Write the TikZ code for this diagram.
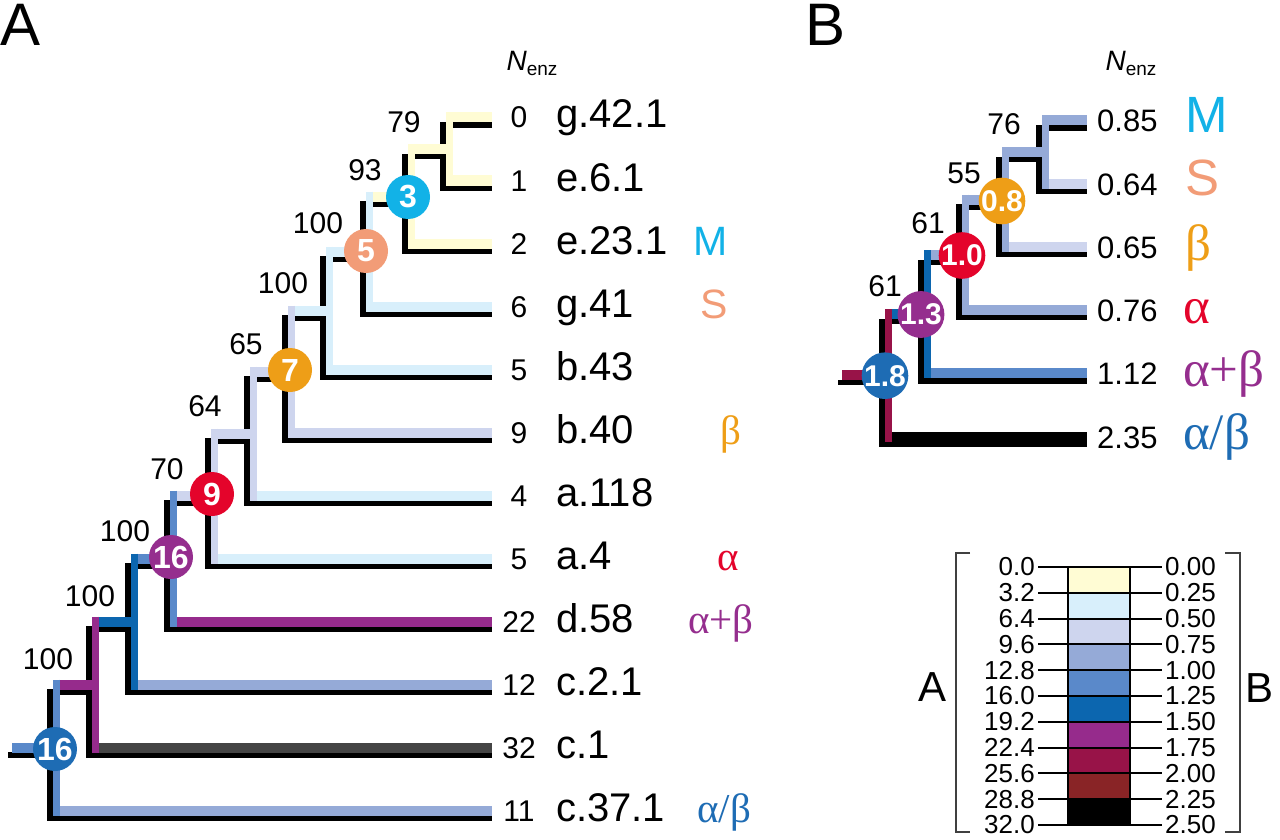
\documentclass[tikz,border=0pt]{standalone}
\usepackage{fontspec}
\setmainfont{Liberation Sans}
\newfontfamily\grk{Liberation Serif}
\usetikzlibrary{calc,positioning}

% colour bins of N_enz
\definecolor{bin0}{HTML}{FFFCD4}
\definecolor{bin1}{HTML}{D8EFFB}
\definecolor{bin2}{HTML}{CED5EE}
\definecolor{bin3}{HTML}{95AAD7}
\definecolor{bin4}{HTML}{5A89CA}
\definecolor{bin5}{HTML}{0C66AF}
\definecolor{bin6}{HTML}{962B8C}
\definecolor{bin7}{HTML}{981348}
\definecolor{bin8}{HTML}{892426}
\definecolor{bin9}{HTML}{000000}
\definecolor{binx}{HTML}{454545}
% fold classes
\definecolor{clsM}{HTML}{12B2E7}
\definecolor{clsS}{HTML}{F29C77}
\definecolor{clsB}{HTML}{EE9E17}
\definecolor{clsA}{HTML}{E4042B}
\definecolor{clsAB}{HTML}{952E8E}
\definecolor{clsAoB}{HTML}{1E6CB4}

\newcommand\fsz[1]{\fontsize{#1}{#1}\selectfont}
\newcommand\bandx{6.5}
\newcommand\bandy{7.5}
% coloured band next to the black branch
\newcommand\bandleaf[3]{\draw[hband,draw=#3] ($(#1 |- #2)+(\bandx,-\bandy)$) -- ($(#2)+(0,-\bandy)$);}
\newcommand\bandnode[3]{\draw[hband,draw=#3] ($(#1 |- #2)+(\bandx,-\bandy)$) -- ($(#2)+(\bandx,-\bandy)$);}
\newcommand\bandvert[4]{\draw[vband,draw=#4] ($(#1 |- #2)+(\bandx,-\bandy-5)$) -- ($(#1 |- #3)+(\bandx,-\bandy+5)$);}

\begin{document}
\begin{tikzpicture}[x=1pt, y=-1pt,
  blk/.style={line width=5.5pt},
  hband/.style={line width=10pt},
  vband/.style={line width=6.5pt},
  boot/.style={inner sep=0pt, font=\fsz{30}},
  bubble/.style={circle, fill=#1, minimum size=44pt, inner sep=0pt, text=white, font=\fsz{32}\bfseries},
  lbl/.style={anchor=base west, inner sep=0pt},
  nenz/.style={anchor=base, inner sep=0pt, font=\fsz{30}},
  keytxt/.style={inner sep=0pt, font=\fsz{26}}]
\useasboundingbox (0,0) rectangle (1280,840);

\node[inner sep=0pt, font=\fsz{60}] (pA) at (21,25) {A};
\node[inner sep=0pt, font=\fsz{60}] (pB) at (826,25) {B};
\node[inner sep=0pt] (hA) at (532,63) {{\fsz{28}\itshape N}{\fsz{19}\raisebox{-5pt}{enz}}};
\node[inner sep=0pt] (hB) at (1131,63) {{\fsz{28}\itshape N}{\fsz{19}\raisebox{-5pt}{enz}}};

% ---- A
\foreach \i/\nm/\nz in {0/g.42.1/0, 1/e.6.1/1, 2/e.23.1/2, 3/g.41/6, 4/b.43/5, 5/b.40/9,
    6/a.118/4, 7/a.4/5, 8/d.58/22, 9/c.2.1/12, 10/c.1/32, 11/c.37.1/11}{
  \coordinate (la\i) at (492,125+63*\i);
  \node[nenz] (za\i) at (519,128+63*\i) {\nz};
  \node[lbl, font=\fsz{40}] (ta\i) at (556,128+63*\i) {\nm};
}
\coordinate (a79) at (443,156.5);
\coordinate (a93) at (405,204);
\coordinate (a100a) at (363,259);
\coordinate (a100b) at (323,318);
\coordinate (a65) at (285,379);
\coordinate (a64) at (247,441);
\coordinate (a70) at (208,503);
\coordinate (a100c) at (167,566);
\coordinate (a100d) at (128,629);
\coordinate (a100e) at (89,692);
\coordinate (aroot) at (50,755);
\coordinate (aroot0) at (8,755);

\draw[blk] (la0) -| (a79) |- (la1);
\draw[blk] (a79) -| (a93) |- (la2);
\draw[blk] (a93) -| (a100a) |- (la3);
\draw[blk] (a100a) -| (a100b) |- (la4);
\draw[blk] (a100b) -| (a65) |- (la5);
\draw[blk] (a65) -| (a64) |- (la6);
\draw[blk] (a64) -| (a70) |- (la7);
\draw[blk] (a70) -| (a100c) |- (la8);
\draw[blk] (a100c) -| (a100d) |- (la9);
\draw[blk] (a100d) -| (a100e) |- (la10);
\draw[blk] (a100e) -| (aroot) |- (la11);
\draw[blk] (aroot0) -- (aroot);

\bandleaf{a79}{la0}{bin0} \bandleaf{a79}{la1}{bin0}
\bandnode{a93}{a79}{bin0} \bandleaf{a93}{la2}{bin0}
\bandnode{a100a}{a93}{bin0} \bandleaf{a100a}{la3}{bin1}
\bandnode{a100b}{a100a}{bin1} \bandleaf{a100b}{la4}{bin1}
\bandnode{a65}{a100b}{bin1} \bandleaf{a65}{la5}{bin2}
\bandnode{a64}{a65}{bin2} \bandleaf{a64}{la6}{bin1}
\bandnode{a70}{a64}{bin2} \bandleaf{a70}{la7}{bin1}
\bandnode{a100c}{a70}{bin2} \bandleaf{a100c}{la8}{bin6}
\bandnode{a100d}{a100c}{bin4} \bandleaf{a100d}{la9}{bin3}
\bandnode{a100e}{a100d}{bin5} \bandleaf{a100e}{la10}{binx}
\bandnode{aroot}{a100e}{bin6} \bandleaf{aroot}{la11}{bin3}
\draw[hband,draw=bin4] ($(aroot0)+(4,-\bandy)$) -- ($(aroot)+(\bandx,-\bandy)$);

\bandvert{a79}{la0}{la1}{bin0}
\bandvert{a93}{a79}{la2}{bin0}
\bandvert{a100a}{a93}{la3}{bin1}
\bandvert{a100b}{a100a}{la4}{bin1}
\bandvert{a65}{a100b}{la5}{bin2}
\bandvert{a64}{a65}{la6}{bin2}
\bandvert{a70}{a64}{la7}{bin2}
\bandvert{a100c}{a70}{la8}{bin4}
\bandvert{a100d}{a100c}{la9}{bin5}
\bandvert{a100e}{a100d}{la10}{bin6}
\bandvert{aroot}{a100e}{la11}{bin4}

\node[bubble=clsM] (c3) at ($(a93)+(3,-7)$) {3};
\node[bubble=clsS] (c5) at ($(a100a)+(3,-8)$) {5};
\node[bubble=clsB] (c7) at ($(a65)+(5,-9)$) {7};
\node[bubble=clsA] (c9) at ($(a70)+(4,-9)$) {9};
\node[bubble=clsAB] (c16a) at ($(a100c)+(4,-9)$) {16};
\node[bubble=clsAoB] (c16b) at ($(aroot)+(5,-6)$) {16};

\node[boot] (s79) at (404,122) {79};
\node[boot] (s93) at (365,170) {93};
\node[boot] (s100a) at (318,223) {100};
\node[boot] (s100b) at (283,283) {100};
\node[boot] (s65) at (246,344) {65};
\node[boot] (s64) at (205,406) {64};
\node[boot] (s70) at (167,469) {70};
\node[boot] (s100c) at (125,531) {100};
\node[boot] (s100d) at (90,596) {100};
\node[boot] (s100e) at (48,659) {100};

\node[lbl, font=\fsz{41}, text=clsM] (fM) at (693,255) {M};
\node[lbl, font=\fsz{41}, text=clsS] (fS) at (700,318) {S};
\node[lbl, font=\fsz{41}\grk, text=clsB] (fB) at (720,444) {β};
\node[lbl, font=\fsz{41}\grk, text=clsA] (fA) at (717,570) {α};
\node[lbl, font=\fsz{41}\grk, text=clsAB] (fAB) at (688,633) {α+β};
\node[lbl, font=\fsz{41}\grk, text=clsAoB] (fAoB) at (697,822) {α/β};

% ---- B
\foreach \i/\v in {0/0.85, 1/0.64, 2/0.65, 3/0.76, 4/1.12, 5/2.35}{
  \coordinate (lb\i) at (1087,128+63.2*\i);
  \node[lbl, font=\fsz{31}] (vb\i) at (1097,132+63.2*\i) {\v};
}
\coordinate (b76) at (1039,159.6);
\coordinate (b55) at (999,207);
\coordinate (b61a) at (959,262.5);
\coordinate (b61b) at (921,321.5);
\coordinate (broot) at (882,382.7);
\coordinate (broot0) at (838,382.7);

\draw[blk] (lb0) -| (b76) |- (lb1);
\draw[blk] (b76) -| (b55) |- (lb2);
\draw[blk] (b55) -| (b61a) |- (lb3);
\draw[blk] (b61a) -| (b61b) |- (lb4);
\draw[blk] (b61b) -| (broot) |- (lb5);
\draw[blk] (broot0) -- (broot);

\bandleaf{b76}{lb0}{bin3} \bandleaf{b76}{lb1}{bin2}
\bandnode{b55}{b76}{bin3} \bandleaf{b55}{lb2}{bin2}
\bandnode{b61a}{b55}{bin3} \bandleaf{b61a}{lb3}{bin3}
\bandnode{b61b}{b61a}{bin3} \bandleaf{b61b}{lb4}{bin4}
\bandnode{broot}{b61b}{bin5} \bandleaf{broot}{lb5}{bin9}
\draw[hband,draw=bin7] ($(broot0)+(4,-\bandy)$) -- ($(broot)+(\bandx,-\bandy)$);

\bandvert{b76}{lb0}{lb1}{bin3}
\bandvert{b55}{b76}{lb2}{bin3}
\bandvert{b61a}{b55}{lb3}{bin3}
\bandvert{b61b}{b61a}{lb4}{bin5}
\bandvert{broot}{b61b}{lb5}{bin7}

\node[bubble=clsB, font=\fsz{30}\bfseries] (c08) at ($(b55)+(3,-6)$) {0.8};
\node[bubble=clsA, font=\fsz{30}\bfseries] (c10) at ($(b61a)+(3,-7)$) {1.0};
\node[bubble=clsAB, font=\fsz{30}\bfseries] (c13) at ($(b61b)+(0,-7)$) {1.3};
\node[bubble=clsAoB, font=\fsz{30}\bfseries] (c18) at ($(broot)+(3,-7)$) {1.8};

\node[boot] (s76) at (1004,124) {76};
\node[boot] (s55) at (964,173) {55};
\node[boot] (s61a) at (928,223) {61};
\node[boot] (s61b) at (885,286) {61};

\node[lbl, font=\fsz{51}, text=clsM] (gM) at (1185,133) {M};
\node[lbl, font=\fsz{51}, text=clsS] (gS) at (1185,196) {S};
\node[lbl, font=\fsz{51}\grk, text=clsB] (gB) at (1185,260) {β};
\node[lbl, font=\fsz{51}\grk, text=clsA] (gA) at (1183,323) {α};
\node[lbl, font=\fsz{51}\grk, text=clsAB] (gAB) at (1183,386) {α+β};
\node[lbl, font=\fsz{51}\grk, text=clsAoB] (gAoB) at (1183,449) {α/β};

% ---- colour key
\foreach \k/\c in {0/bin0, 1/bin1, 2/bin2, 3/bin3, 4/bin4, 5/bin5, 6/bin6, 7/bin7, 8/bin8, 9/bin9}
  \fill[\c] (1068,567+25.8*\k) rectangle (1130,592.8+25.8*\k);
\draw[line width=2pt] (1068,567) rectangle (1130,825);
\foreach \k/\a/\b in {0/0.0/0.00, 1/3.2/0.25, 2/6.4/0.50, 3/9.6/0.75, 4/12.8/1.00, 5/16.0/1.25,
    6/19.2/1.50, 7/22.4/1.75, 8/25.6/2.00, 9/28.8/2.25, 10/32.0/2.50}{
  \draw[line width=2pt] (1038,567+25.8*\k) -- (1162,567+25.8*\k);
  \node[keytxt, anchor=east] (ka\k) at (1035,567+25.8*\k) {\a};
  \node[keytxt, anchor=west] (kb\k) at (1165,567+25.8*\k) {\b};
}
\draw[line width=1.5pt, black!75] (970,553) -- (956,553) -- (956,832) -- (970,832);
\draw[line width=1.5pt, black!75] (1225,553) -- (1240,553) -- (1240,832) -- (1225,832);
\node[inner sep=0pt, font=\fsz{42}] (kA) at (932,687) {A};
\node[inner sep=0pt, font=\fsz{42}] (kB) at (1259,688) {B};
\end{tikzpicture}
\end{document}
